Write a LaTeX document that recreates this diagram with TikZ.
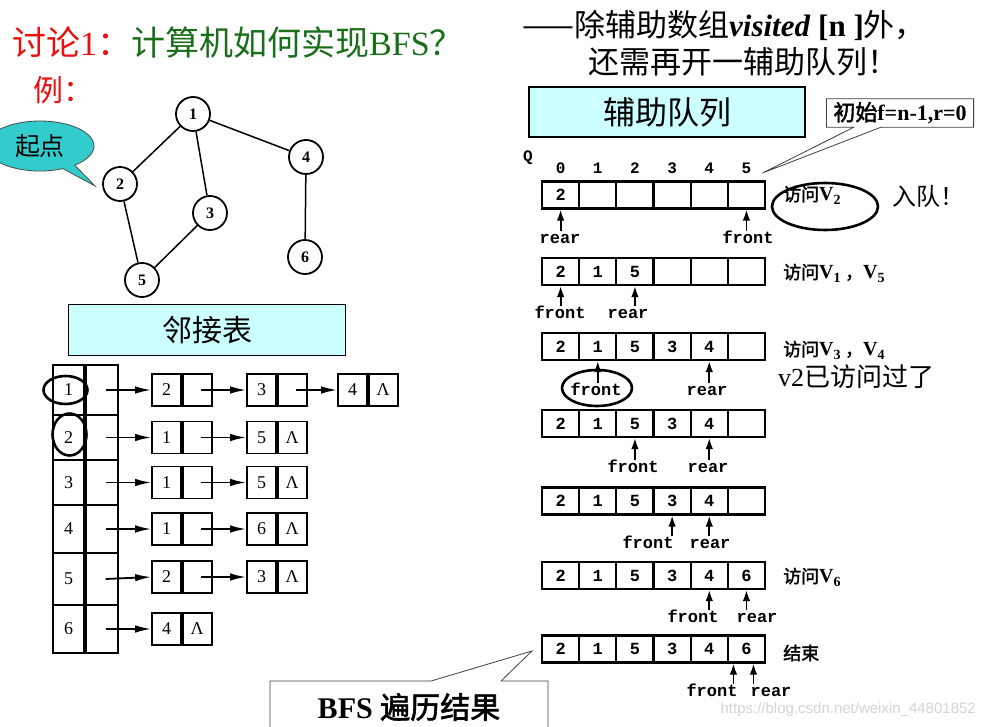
\documentclass[tikz,border=0pt]{standalone}
\usepackage{fontspec}
\setmainfont{Liberation Serif}
\newfontfamily\cjk{Noto Sans CJK SC}
\newfontfamily\cjkb{Noto Sans CJK SC}[FakeBold=2]
\newfontfamily\qfont{Liberation Mono}
\newfontfamily\markfont{Liberation Sans}
\usetikzlibrary{arrows.meta,shapes.geometric,shapes.callouts}
\definecolor{titlered}{RGB}{235,15,15}
\definecolor{titlegreen}{RGB}{25,110,25}
\definecolor{boxcyan}{RGB}{204,255,255}
\definecolor{bubblecyan}{RGB}{51,204,204}
\definecolor{markgray}{RGB}{212,212,212}
\tikzstyle{vertex}=[circle,draw,line width=1.8pt,minimum size=34pt,inner sep=0pt,
    font=\bfseries\fontsize{16}{16}\selectfont]
\tikzstyle{graphedge}=[line width=1.5pt]
\tikzstyle{headcell}=[draw,line width=1.7pt,inner sep=0pt,font=\fontsize{18}{18}\selectfont]
\tikzstyle{listcell}=[draw,line width=1.7pt,minimum width=29pt,minimum height=32pt,
    inner sep=0pt,font=\fontsize{18}{18}\selectfont]
\tikzstyle{listarrow}=[line width=1.8pt,-{Latex[length=16pt,width=7.5pt]}]
\tikzstyle{qcell}=[draw,line width=2.1pt,minimum width=37.17pt,minimum height=27pt,
    inner sep=0pt,font=\qfont\bfseries\fontsize{17}{17}\selectfont]
\tikzstyle{ptr}=[line width=1.8pt,-{Latex[length=11pt,width=7.5pt]}]
\tikzstyle{ptrlabel}=[inner sep=1pt,text height=11pt,text depth=0pt,
    font=\qfont\bfseries\fontsize{17}{17}\selectfont]
\tikzstyle{note}=[anchor=west,inner sep=0pt,font=\cjkb\fontsize{18}{18}\selectfont]
\tikzstyle{titlebox}=[draw,fill=boxcyan,line width=1.2pt,inner sep=0pt]
\tikzstyle{ring}=[ellipse,draw,line width=2.6pt,inner sep=0pt]
\tikzstyle{plain}=[anchor=west,inner sep=0pt]
% list node: name, position, value, link field
\newcommand{\listNode}[4]{
\node[listcell] (#1) at (#2) {#3};
\node[listcell,anchor=west] (#1n) at (#1.east) {#4};
}
% one state of the queue: name, y, six values
\newcommand{\queueRow}[3]{
\foreach \v [count=\i from 0] in {#3}
    \node[qcell] (#1c\i) at (560.6+37.17*\i,#2) {\v};
}
% front/rear pointer: name, target, label position, text
\newcommand{\queuePtr}[4]{
\node[ptrlabel] (#1) at (#3) {#4};
\draw[ptr] (#1.north -| #2) -- (#2);
}
\begin{document}
\begin{tikzpicture}[x=1pt,y=-1pt]
\useasboundingbox (0,0) rectangle (983,727);
\clip (0,0) rectangle (983,727);
%titles
\node[plain,font=\fontsize{34}{34}\selectfont] (title) at (12,43)
    {\textcolor{titlered}{{\cjk 讨论}1{\cjk ：}}\textcolor{titlegreen}{{\cjk 计算机如何实现}BFS{\cjk ？}}};
\node[plain,text=titlered,font=\cjk\fontsize{30}{30}\selectfont] (example) at (33,90) {例：};
\node[plain,font=\fontsize{31}{31}\selectfont] (hint1) at (522,25)
    {{\cjk ——除辅助数组}\textbf{\textit{visited}} \textbf{[n ]}{\cjk 外，}};
\node[plain,font=\cjk\fontsize{31}{31}\selectfont] (hint2) at (588,62) {还需再开一辅助队列！};
%graph
\node[vertex] (v1) at (193,114) {1};
\node[vertex] (v2) at (120,184) {2};
\node[vertex] (v3) at (210,213) {3};
\node[vertex] (v4) at (306,157) {4};
\node[vertex] (v5) at (142,280) {5};
\node[vertex] (v6) at (305,257) {6};
\draw[graphedge] (v1) -- (v2) (v1) -- (v3) (v1) -- (v4) (v2) -- (v5) (v3) -- (v5) (v4) -- (v6);
\node[ellipse callout,draw=black!70,fill=bubblecyan,line width=0.8pt,minimum width=108pt,
    minimum height=50pt,inner sep=0pt,callout absolute pointer={([xshift=-7pt,yshift=-2pt]v2.west)},
    font=\cjk\fontsize{25}{25}\selectfont] (start) at (40,146) {起点};
%adjacency list
\node[titlebox,minimum width=277pt,minimum height=51pt,font=\cjk\fontsize{30}{30}\selectfont]
    (adjtitle) at (207,330) {邻接表};
\foreach \v/\y/\h in {1/390/50,2/437.5/45,3/482.5/45,4/529/48,5/579/52,6/629/48}{
    \node[headcell,minimum width=31pt,minimum height=\h pt] (hd\v) at (68.5,\y) {\v};
    \node[headcell,minimum width=32pt,minimum height=\h pt,anchor=west] (hp\v) at (hd\v.east) {};
}
\listNode{a11}{166.5,390}{2}{}
\listNode{a12}{261.5,390}{3}{}
\listNode{a13}{352.5,390}{4}{Λ}
\listNode{a21}{166.5,437.5}{1}{}
\listNode{a22}{261.5,437.5}{5}{Λ}
\listNode{a31}{166.5,482.5}{1}{}
\listNode{a32}{261.5,482.5}{5}{Λ}
\listNode{a41}{166.5,529}{1}{}
\listNode{a42}{261.5,529}{6}{Λ}
\listNode{a51}{166.5,577}{2}{}
\listNode{a52}{261.5,577}{3}{Λ}
\listNode{a61}{166.5,629}{4}{Λ}
\foreach \r in {1,...,6}
    \draw[listarrow] ([xshift=4pt]hp\r.center) -- (a\r1.west);
\draw[listarrow] ([xshift=4pt]a11n.center) -- (a12.west);
\draw[listarrow] ([xshift=4pt]a12n.center) -- (a13.west);
\foreach \r in {2,...,5}
    \draw[listarrow] ([xshift=4pt]a\r1n.center) -- (a\r2.west);
\node[ring,minimum width=44pt,minimum height=28pt] (mark1) at ([xshift=-3pt]hd1.center) {};
\node[ring,minimum width=34pt,minimum height=42pt] (mark2) at ([xshift=1pt,yshift=3pt]hd2.center) {};
%queue
\node[titlebox,minimum width=276pt,minimum height=50pt,font=\cjk\fontsize{32}{32}\selectfont]
    (qtitle) at (667,112) {辅助队列};
\node[font=\qfont\bfseries\fontsize{16}{16}\selectfont,inner sep=0pt] (qname) at (528,158) {Q};
\foreach \i in {0,...,5}
    \node[font=\qfont\bfseries\fontsize{16}{16}\selectfont,inner sep=0pt] (idx\i) at (560.6+37.17*\i,168) {\i};
\node[rectangle callout,draw=black!75,fill=white,line width=0.8pt,minimum height=28pt,inner xsep=7pt,
    callout absolute pointer={([xshift=16pt,yshift=-5pt]idx5.center)},callout pointer width=27pt,
    anchor=west,font=\fontsize{22}{22}\selectfont] (initnote) at (826,113) {{\cjkb 初始}\textbf{f=n-1,r=0}};
\queueRow{q1}{195}{2,{},{},{},{},{}}
\queueRow{q2}{271.5}{2,1,5,{},{},{}}
\queueRow{q3}{346.5}{2,1,5,3,4,{}}
\queueRow{q4}{423.5}{2,1,5,3,4,{}}
\queueRow{q5}{501}{2,1,5,3,4,{}}
\queueRow{q6}{575.5}{2,1,5,3,4,6}
\queueRow{q7}{649}{2,1,5,3,4,6}
\queuePtr{q1r}{q1c0.south}{560,238}{rear}
\queuePtr{q1f}{q1c5.south}{748,238}{front}
\queuePtr{q2f}{q2c0.south}{560,313}{front}
\queuePtr{q2r}{q2c2.south}{628,313}{rear}
\queuePtr{q3f}{q3c1.south}{596,390}{front}
\queuePtr{q3r}{q3c4.south}{707,390}{rear}
\queuePtr{q4f}{q4c2.south}{633,467}{front}
\queuePtr{q4r}{q4c4.south}{708,467}{rear}
\queuePtr{q5f}{q5c3.south}{648,543}{front}
\queuePtr{q5r}{q5c4.south}{710,543}{rear}
\queuePtr{q6f}{q6c4.south}{693,617}{front}
\queuePtr{q6r}{q6c5.south}{757,617}{rear}
\coordinate (q7fp) at ([xshift=-13pt]q7c5.south);
\coordinate (q7rp) at ([xshift=7pt]q7c5.south);
\queuePtr{q7f}{q7fp}{712,691}{front}
\queuePtr{q7r}{q7rp}{771,691}{rear}
\node[ring,minimum width=70pt,minimum height=36pt] (frontmark) at (597,388) {};
%notes on the right
\node[note] (n1) at (783,195) {访问{\rmfamily\bfseries\fontsize{20}{20}\selectfont V\textsubscript{2}}};
\node[ring,minimum width=106pt,minimum height=47pt] (n1mark) at (825,206.5) {};
\node[plain,font=\cjk\fontsize{24}{24}\selectfont] (enq) at (892,196) {入队！};
\node[note] (n2) at (783,273)
    {访问{\rmfamily\bfseries\fontsize{20}{20}\selectfont V\textsubscript{1}} ，{\rmfamily\bfseries\fontsize{20}{20}\selectfont V\textsubscript{5}}};
\node[note] (n3) at (783,350)
    {访问{\rmfamily\bfseries\fontsize{20}{20}\selectfont V\textsubscript{3}} ，{\rmfamily\bfseries\fontsize{20}{20}\selectfont V\textsubscript{4}}};
\node[plain,font=\fontsize{26}{26}\selectfont] (n3b) at (778,377) {v2{\cjk 已访问过了}};
\node[note] (n6) at (783,577) {访问{\rmfamily\bfseries\fontsize{20}{20}\selectfont V\textsubscript{6}}};
\node[note] (n7) at (783,653) {结束};
\node[rectangle callout,draw=black!75,fill=white,line width=0.8pt,minimum width=278pt,minimum height=52pt,
    callout absolute pointer={([xshift=-9pt,yshift=-2pt]q7c0.west)},callout pointer width=70pt,
    font=\fontsize{30}{30}\selectfont] (result) at (409,707) {\textbf{BFS} {\cjkb 遍历结果}};
\node[anchor=east,inner sep=0pt,text=markgray,font=\markfont\fontsize{15}{15}\selectfont]
    (mark) at (976,710) {https://blog.csdn.net/weixin\_44801852};
\end{tikzpicture}
\end{document}
